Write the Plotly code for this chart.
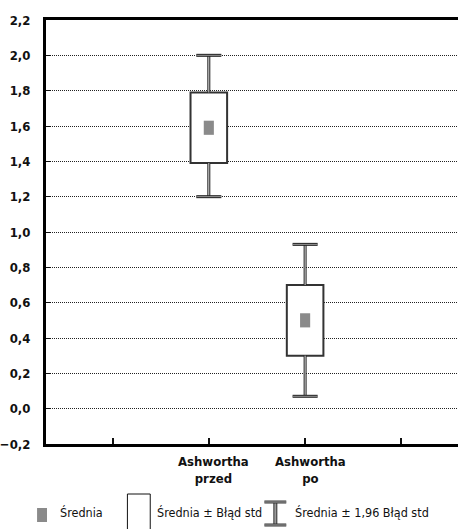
import plotly.graph_objects as go

categories = ["Ashwortha<br>przed", "Ashwortha<br>po"]
means = [1.59, 0.50]
box_low = [1.39, 0.30]
box_high = [1.79, 0.70]
whisk_low = [1.20, 0.07]
whisk_high = [2.00, 0.93]
y_ticks = [-0.2, 0.0, 0.2, 0.4, 0.6, 0.8, 1.0, 1.2, 1.4, 1.6, 1.8, 2.0, 2.2]

W, H = 458, 529
L, R, T, B = 43, 0, 20, 85
PW, PH = W - L - R, H - T - B

FONT = "Liberation Sans Narrow, DejaVu Sans Condensed, Arial Narrow, sans-serif"
xs = list(range(len(categories)))
x_range = [(L - 207) / 97, (W - R - 207) / 97]
y_range = [y_ticks[0], y_ticks[-1]]

fig = go.Figure()

# box (mean +/- SE)
fig.add_trace(go.Bar(
    x=xs, base=box_low, y=[h - l for h, l in zip(box_high, box_low)],
    width=0.38, marker=dict(color="white", line=dict(color="#333333", width=2)),
    showlegend=False, hoverinfo="skip"))
# mean marker
fig.add_trace(go.Bar(
    x=xs, base=[m - 0.04 for m in means], y=[0.08] * len(means),
    width=0.105, marker=dict(color="#8a8a8a", line=dict(width=0)),
    showlegend=False, hoverinfo="skip"))

# whiskers
wx, wy, cx, cy = [], [], [], []
for x, bl, bh, wl, wh in zip(xs, box_low, box_high, whisk_low, whisk_high):
    wx += [x, x, None, x, x, None]
    wy += [wl, bl, None, bh, wh, None]
    cx += [x - 0.13, x + 0.13, None, x - 0.13, x + 0.13, None]
    cy += [wl, wl, None, wh, wh, None]
fig.add_trace(go.Scatter(x=wx, y=wy, mode="lines", line=dict(color="#222222", width=3),
                         showlegend=False, hoverinfo="skip"))
fig.add_trace(go.Scatter(x=wx, y=wy, mode="lines", line=dict(color="#dddddd", width=1),
                         showlegend=False, hoverinfo="skip"))
fig.add_trace(go.Scatter(x=cx, y=cy, mode="lines", line=dict(color="#222222", width=3),
                         showlegend=False, hoverinfo="skip"))
fig.add_trace(go.Scatter(x=cx, y=cy, mode="lines", line=dict(color="#999999", width=1),
                         showlegend=False, hoverinfo="skip"))


def px(xp):
    return (xp - L) / PW


def py(yp):
    return (H - B - yp) / PH


shapes = []
# legend: mean square
shapes.append(dict(type="rect", xref="paper", yref="paper", x0=px(34), x1=px(44),
                   y0=py(508), y1=py(522), fillcolor="#8a8a8a", line=dict(width=0)))
# legend: box
shapes.append(dict(type="rect", xref="paper", yref="paper", x0=px(125), x1=px(148),
                   y0=py(494), y1=py(540), fillcolor="white", line=dict(color="#111111", width=1)))
# legend: whisker icon
shapes.append(dict(type="line", xref="paper", yref="paper", x0=px(274), x1=px(274),
                   y0=py(502), y1=py(525), line=dict(color="#333333", width=4)))
shapes.append(dict(type="line", xref="paper", yref="paper", x0=px(274), x1=px(274),
                   y0=py(502), y1=py(525), line=dict(color="#999999", width=2)))
for yy in (502, 525):
    shapes.append(dict(type="line", xref="paper", yref="paper", x0=px(263), x1=px(285),
                       y0=py(yy), y1=py(yy), line=dict(color="#333333", width=3)))
    shapes.append(dict(type="line", xref="paper", yref="paper", x0=px(263), x1=px(285),
                       y0=py(yy), y1=py(yy), line=dict(color="#aaaaaa", width=1)))

annotations = []
for text, xp in [("Średnia", 55), ("Średnia ± Błąd std", 153), ("Średnia ± 1,96 Błąd std", 292)]:
    annotations.append(dict(text=text, xref="paper", yref="paper", x=px(xp), y=py(512),
                            xanchor="left", yanchor="middle", showarrow=False,
                            font=dict(family=FONT, size=12.5, color="#111111")))
# category labels (placed through the x scale)
for i, cat in enumerate(categories):
    annotations.append(dict(text="<b>" + cat + "</b>", xref="x", yref="paper", x=xs[i], y=py(452),
                            xanchor="center", yanchor="top", xshift=5, showarrow=False,
                            font=dict(family=FONT, size=13, color="#111111")))

fig.update_layout(
    width=W, height=H,
    margin=dict(l=L, r=R, t=T, b=B, pad=0),
    paper_bgcolor="white", plot_bgcolor="white",
    barmode="overlay",
    separators=", ",
    shapes=shapes, annotations=annotations,
    font=dict(family=FONT, color="#111111"),
    xaxis=dict(
        range=x_range,
        tickvals=[-1, 0, 1, 2], showticklabels=False,
        ticks="inside", ticklen=6, tickwidth=2, tickcolor="#111111",
        showline=True, linecolor="#000000", linewidth=3, mirror=True,
        showgrid=False, zeroline=False,
    ),
    yaxis=dict(
        range=y_range, tickvals=y_ticks, tickformat=".1f",
        ticks="inside", ticklen=5, tickwidth=1, tickcolor="#111111",
        showline=True, linecolor="#000000", linewidth=3,
        showgrid=True, gridcolor="#222222", gridwidth=1, griddash="1px,1px",
        zeroline=False, ticklabelstandoff=10,
        tickfont=dict(family=FONT, size=13, color="#111111", weight="bold"),
    ),
)

fig.write_html("out.html")
